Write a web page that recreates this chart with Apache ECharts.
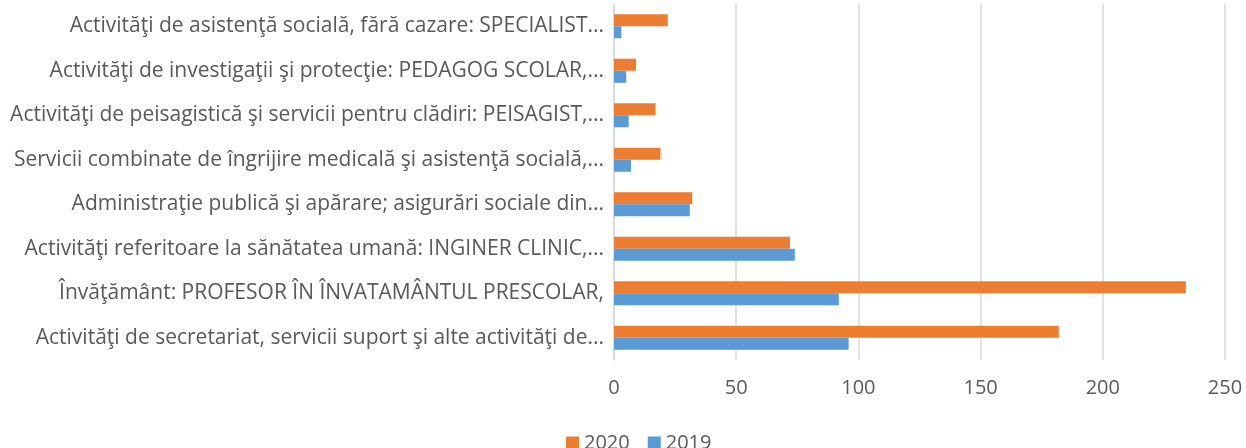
<!DOCTYPE html>
<html>
<head>
<meta charset="utf-8">
<script src="https://cdn.jsdelivr.net/npm/echarts@6/dist/echarts.min.js"></script>
<style>
  html, body { margin: 0; padding: 0; background: #fff; }
  #chart { width: 1246px; height: 448px; }
</style>
</head>
<body>
<div id="chart"></div>
<script>
// categories, bottom to top (as the y axis draws them)
const categories = [
  "Activităţi de secretariat, servicii suport şi alte activităţi de...",
  "Învăţământ: PROFESOR ÎN ÎNVATAMÂNTUL PRESCOLAR,",
  "Activităţi referitoare la sănătatea umană: INGINER CLINIC,...",
  "Administraţie publică şi apărare; asigurări sociale din...",
  "Servicii combinate de îngrijire medicală şi asistenţă socială,...",
  "Activităţi de peisagistică şi servicii pentru clădiri: PEISAGIST,...",
  "Activităţi de investigaţii şi protecţie: PEDAGOG SCOLAR,...",
  "Activităţi de asistenţă socială, fără cazare: SPECIALIST..."
];
const values2020 = [182, 234, 72, 32, 19, 17, 9, 22];
const values2019 = [96, 92, 74, 31, 7, 6, 5, 3];
const legendNames = ["2020", "2019"];

const chart = echarts.init(document.getElementById("chart"));
const textColor = "#595959";
const fontFamily = "'Open Sans', sans-serif";

chart.setOption({
  animation: false,
  textStyle: { fontFamily: fontFamily },
  grid: { left: 614, right: 21, top: 4, bottom: 88, containLabel: false },
  xAxis: {
    type: "value",
    min: 0,
    max: 250,
    interval: 50,
    axisLine: { show: false },
    axisTick: { show: false },
    splitLine: { lineStyle: { color: "#D9D9D9", width: 1.5 } },
    axisLabel: { color: textColor, fontSize: 20, margin: 18 }
  },
  yAxis: {
    type: "category",
    data: categories,
    axisLine: { show: true, lineStyle: { color: "#D9D9D9", width: 1.5 } },
    axisTick: { show: false },
    axisLabel: { color: textColor, fontSize: 21, margin: 10 }
  },
  legend: {
    data: legendNames,
    top: 428,
    left: 561,
    itemWidth: 13,
    itemHeight: 13,
    itemGap: 18,
    icon: "rect",
    textStyle: { color: textColor, fontSize: 20 }
  },
  series: [
    {
      name: "2020",
      type: "bar",
      data: values2020,
      barGap: "0%",
      barCategoryGap: "46%",
      itemStyle: { color: "#ED7D31" }
    },
    {
      name: "2019",
      type: "bar",
      data: values2019,
      barGap: "0%",
      barCategoryGap: "46%",
      itemStyle: { color: "#5B9BD5" }
    }
  ]
});
</script>
</body>
</html>
